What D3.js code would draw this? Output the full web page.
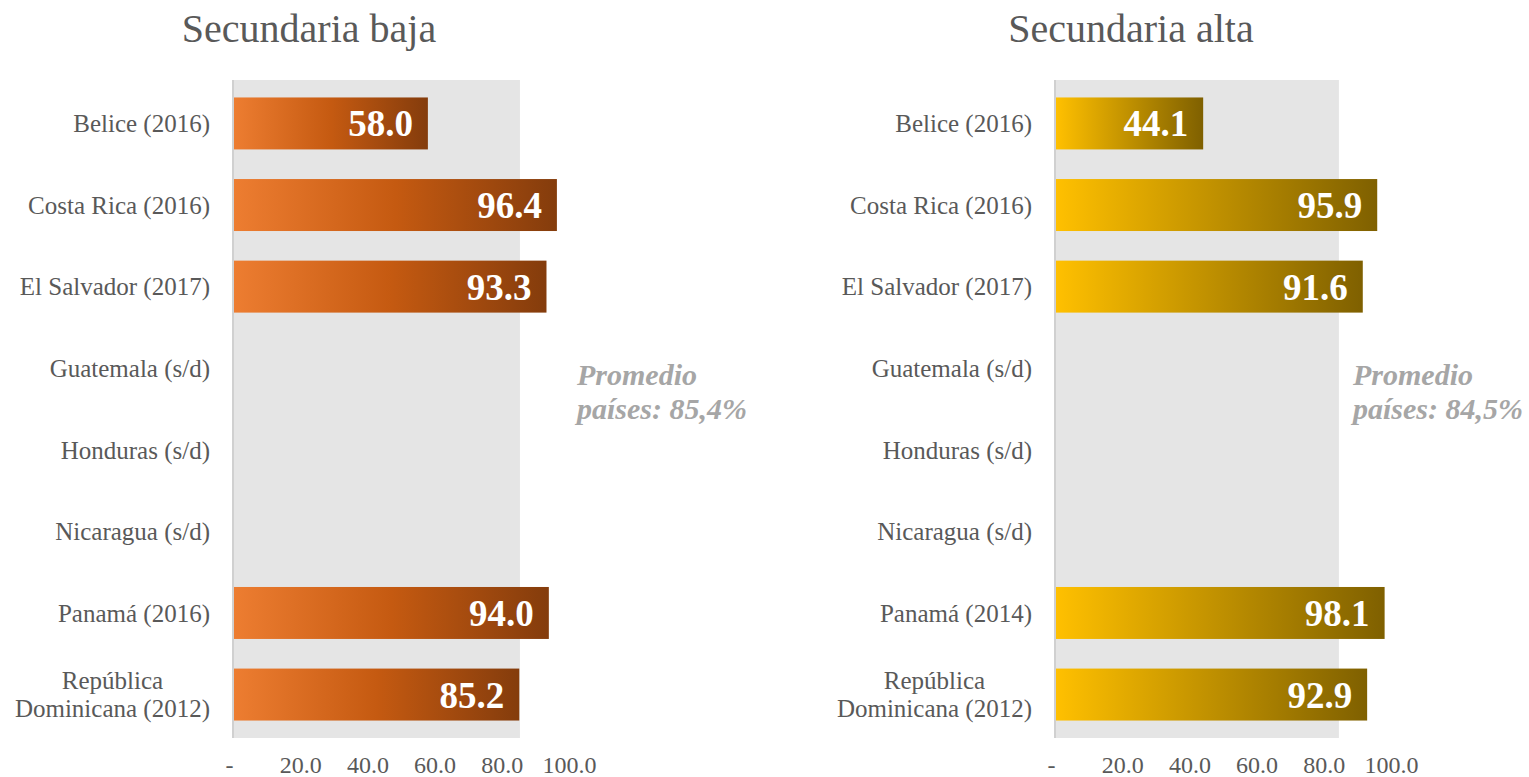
<!DOCTYPE html>
<html>
<head>
<meta charset="utf-8">
<script src="https://cdn.jsdelivr.net/npm/d3@7"></script>
<style>
  body { margin: 0; background: #fff; }
  svg { display: block; font-family: "Liberation Serif", "DejaVu Serif", serif; }
</style>
</head>
<body>
<div id="chart"></div>
<script>
// Data
const categories = ['Belice', 'Costa Rica', 'El Salvador', 'Guatemala', 'Honduras', 'Nicaragua', 'Panamá', 'República Dominicana'];
const bajaLabels = ['Belice (2016)', 'Costa Rica (2016)', 'El Salvador (2017)', 'Guatemala (s/d)', 'Honduras (s/d)', 'Nicaragua (s/d)', 'Panamá (2016)', 'República|Dominicana (2012)'];
const altaLabels = ['Belice (2016)', 'Costa Rica (2016)', 'El Salvador (2017)', 'Guatemala (s/d)', 'Honduras (s/d)', 'Nicaragua (s/d)', 'Panamá (2014)', 'República|Dominicana (2012)'];
const bajaValues = [58.0, 96.4, 93.3, null, null, null, 94.0, 85.2];
const altaValues = [44.1, 95.9, 91.6, null, null, null, 98.1, 92.9];
const averages = [85.4, 84.5];
const averageTexts = ['Promedio|países: 85,4%', 'Promedio|países: 84,5%'];
const titles = ['Secundaria baja', 'Secundaria alta'];
const tickValues = [0, 20, 40, 60, 80, 100];

const W = 1529, H = 777;
const svg = d3.select('#chart').append('svg')
    .attr('width', W)
    .attr('height', H);

const defs = svg.append('defs');
const gradients = [
    { id: 'gradOrange', stops: ['#ED7D31', '#C55A11', '#843C0C'] },
    { id: 'gradGold', stops: ['#FFC000', '#BF9000', '#7F6000'] }
];
gradients.forEach(g => {
    const lg = defs.append('linearGradient')
        .attr('id', g.id)
        .attr('x1', '0%').attr('x2', '100%')
        .attr('y1', '0%').attr('y2', '0%');
    g.stops.forEach((c, i) => {
        lg.append('stop')
            .attr('offset', (i / (g.stops.length - 1) * 100) + '%')
            .attr('stop-color', c);
    });
});

const panels = [
    { x0: 233, titleX: 309, labels: bajaLabels, values: bajaValues, avg: averages[0], avgText: averageTexts[0], avgX: 577, title: titles[0], grad: 'gradOrange' },
    { x0: 1055, titleX: 1131, labels: altaLabels, values: altaValues, avg: averages[1], avgText: averageTexts[1], avgX: 1353, title: titles[1], grad: 'gradGold' }
];

const y = d3.scaleBand()
    .domain(categories)
    .range([80, 738])
    .paddingInner(0.363)
    .paddingOuter(0.214);

panels.forEach(p => drawPanel(p));

function drawPanel(p) {
    const x = d3.scaleLinear().domain([0, 100]).range([p.x0, p.x0 + 336]);
    const g = svg.append('g');

    // Title
    g.append('text')
        .attr('x', p.titleX)
        .attr('y', 42)
        .attr('text-anchor', 'middle')
        .style('font-size', '40px')
        .style('fill', '#595959')
        .text(p.title);

    // Average band drawn as a background bar
    g.append('rect')
        .attr('x', x(0))
        .attr('y', 80)
        .attr('width', x(p.avg) - x(0))
        .attr('height', 738 - 80)
        .attr('fill', '#e5e5e5');

    // Vertical axis line
    g.append('line')
        .attr('x1', x(0)).attr('x2', x(0))
        .attr('y1', 80).attr('y2', 738)
        .attr('stroke', '#d0d0d0')
        .attr('stroke-width', 2);

    const data = categories.map((c, i) => ({ cat: c, label: p.labels[i], value: p.values[i] }));

    // Bars
    g.selectAll('rect.bar')
        .data(data.filter(d => d.value != null))
        .enter()
        .append('rect')
        .attr('class', 'bar')
        .attr('x', x(0) + 1)
        .attr('y', d => y(d.cat))
        .attr('width', d => x(d.value) - x(0) - 1)
        .attr('height', y.bandwidth())
        .attr('fill', `url(#${p.grad})`);

    // Value labels
    g.selectAll('text.val')
        .data(data.filter(d => d.value != null))
        .enter()
        .append('text')
        .attr('class', 'val')
        .attr('x', d => x(d.value) - 15)
        .attr('y', d => y(d.cat) + y.bandwidth() / 2)
        .attr('dy', '0.35em')
        .attr('text-anchor', 'end')
        .style('font-size', '37px')
        .style('font-weight', 'bold')
        .style('fill', '#fff')
        .text(d => d.value.toFixed(1));

    // Category labels
    const labelRight = x(0) - 23;
    data.forEach(d => {
        const lines = d.label.split('|');
        const cy = y(d.cat) + y.bandwidth() / 2;
        const t = g.append('text')
            .style('font-size', '25px')
            .style('fill', '#595959');
        if (lines.length === 1) {
            t.attr('x', labelRight)
                .attr('y', cy)
                .attr('dy', '0.35em')
                .attr('text-anchor', 'end')
                .text(lines[0]);
        } else {
            const spans = lines.map((l, i) => t.append('tspan')
                .attr('y', cy + (i - (lines.length - 1) / 2) * 28)
                .attr('dy', '0.35em')
                .text(l));
            const maxW = d3.max(spans, s => s.node().getComputedTextLength());
            t.attr('text-anchor', 'middle');
            spans.forEach(s => s.attr('x', labelRight - maxW / 2));
        }
    });

    // X axis
    const axis = d3.axisBottom(x)
        .tickValues(tickValues)
        .tickSize(0)
        .tickPadding(0)
        .tickFormat(d => d === 0 ? '-' : d.toFixed(1));
    const ax = g.append('g')
        .attr('transform', 'translate(0,756)')
        .call(axis);
    ax.select('.domain').remove();
    ax.selectAll('text')
        .style('font-family', '"Liberation Serif", serif')
        .style('font-size', '24px')
        .style('fill', '#595959')
        .attr('dx', d => d === 0 ? -4 : 0);

    // Average annotation
    const at = g.append('text')
        .style('font-size', '30px')
        .style('font-weight', 'bold')
        .style('font-style', 'italic')
        .style('fill', '#a6a6a6');
    p.avgText.split('|').forEach((l, i) => {
        at.append('tspan')
            .attr('x', p.avgX)
            .attr('y', 385 + i * 34)
            .text(l);
    });
}
</script>
</body>
</html>
